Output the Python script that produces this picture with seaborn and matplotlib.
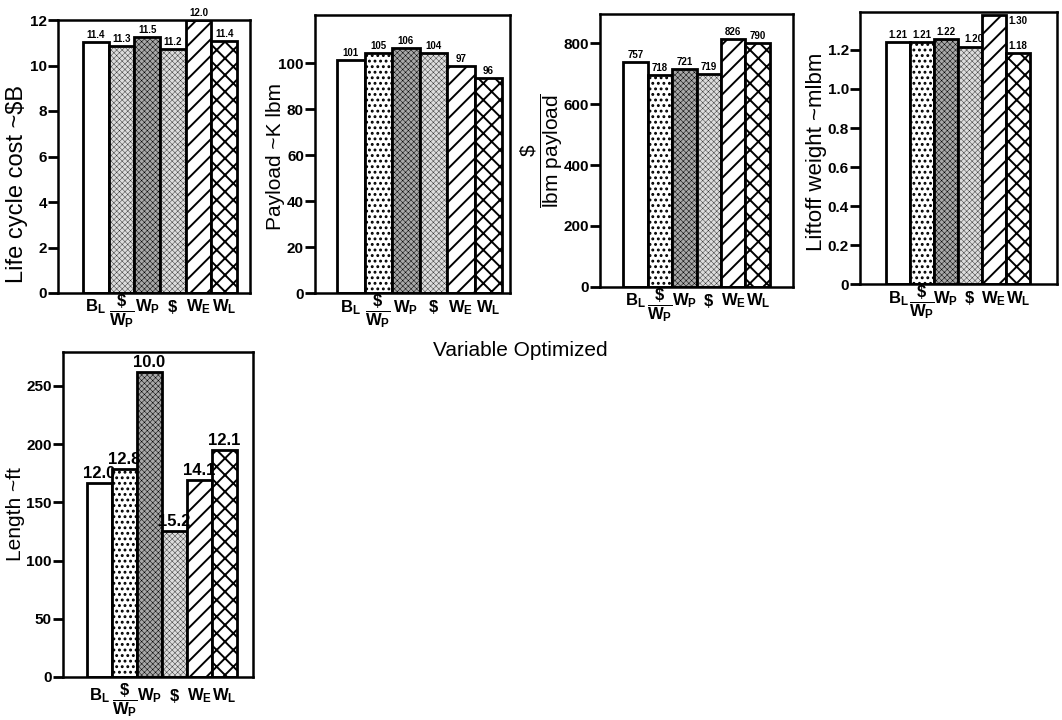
import matplotlib
matplotlib.use('Agg')
import matplotlib.pyplot as plt
import seaborn as sns
import pandas as pd
from matplotlib import font_manager

# ---------------- data ----------------
categories = [r'$B_L$', r'$\dfrac{\$}{W_P}$', r'$W_P$', r'$\$$', r'$W_E$', r'$W_L$']

cost_heights = [11.05, 10.86, 11.27, 10.71, 12.0, 11.09]
cost_labels = ['11.4', '11.3', '11.5', '11.2', '12.0', '11.4']

payload_heights = [101.4, 104.6, 106.5, 104.3, 98.8, 93.5]
payload_labels = ['101', '105', '106', '104', '97', '96']

cpp_heights = [740, 696, 716, 699, 814, 800]
cpp_labels = ['757', '718', '721', '719', '826', '790']

liftoff_heights = [1.242, 1.242, 1.254, 1.217, 1.379, 1.183]
liftoff_labels = ['1.21', '1.21', '1.22', '1.20', '1.30', '1.18']

length_heights = [166.5, 178.6, 262.0, 125.5, 169.4, 195.0]
length_labels = ['12.0', '12.8', '10.0', '15.2', '14.1', '12.1']

cost_ticks = [0, 2, 4, 6, 8, 10, 12]
payload_ticks = [0, 20, 40, 60, 80, 100]
cpp_ticks = [0, 200, 400, 600, 800]
liftoff_ticks = [0, 0.2, 0.4, 0.6, 0.8, 1.0, 1.2]
liftoff_ticklabels = ['0', '0.2', '0.4', '0.6', '0.8', '1.0', '1.2']
length_ticks = [0, 50, 100, 150, 200, 250]

# ---------------- style ----------------
sns.set_style('ticks')
plt.rcParams['font.family'] = ['Liberation Sans', 'DejaVu Sans']
plt.rcParams['mathtext.fontset'] = 'custom'
plt.rcParams['mathtext.rm'] = 'Liberation Sans:bold'
plt.rcParams['mathtext.it'] = 'Liberation Sans:bold'
plt.rcParams['mathtext.bf'] = 'Liberation Sans:bold'
plt.rcParams['mathtext.sf'] = 'Liberation Sans'
plt.rcParams['hatch.linewidth'] = 1.3
for k in ['text.color', 'axes.labelcolor', 'xtick.color', 'ytick.color', 'axes.edgecolor']:
    plt.rcParams[k] = 'black'

installed = {f.name for f in font_manager.fontManager.ttflist}
tick_family = 'Liberation Sans Narrow' if 'Liberation Sans Narrow' in installed else 'Liberation Sans'
tick_size = 13 if tick_family == 'Liberation Sans Narrow' else 11

W, H = 1062, 720
fig = plt.figure(figsize=(W / 100, H / 100), dpi=100)


def rect(l, r, t, b):
    return [l / W, 1 - b / H, (r - l) / W, (b - t) / H]


# pattern per bar: (facecolor, hatch, hatch linewidth)
pat_white = ('white', None, None)
pat_dots = ('white', '...', 1.3)
pat_dark = ('#a8a8a8', 'xxxxxx', 0.35)
pat_light = ('#dcdcdc', 'xxxxxx', 0.25)
pat_diag = ('white', '//', 1.4)
pat_cross = ('white', 'xx', 1.4)
patterns_std = [pat_white, pat_dots, pat_dark, pat_light, pat_diag, pat_cross]
patterns_p1 = [pat_white, pat_light, pat_dark, pat_light, pat_diag, pat_cross]

# extra downward shift (pixels) of the fraction category label
label_extra = [0, 4, 0, 0, 0, 0]

panels = [
    dict(rect=rect(58, 250, 20, 293), h=cost_heights, lab=cost_labels,
         ylabel='Life cycle cost ~$B', yfs=17, lx=-0.156, ly=0.40, ylim=(0, 12),
         ticks=cost_ticks, tl=None, xoff=14,
         xlim=(-1.47, 6.0), vfs=7, pats=patterns_p1, dx=[0] * 6, top=[False] * 6),
    dict(rect=rect(315, 510, 15, 293.3), h=payload_heights, lab=payload_labels,
         ylabel='Payload ~K lbm', yfs=15, lx=-0.154, ly=0.49, ylim=(0, 121),
         ticks=payload_ticks, tl=None, xoff=14,
         xlim=(-1.3, 5.79), vfs=7, pats=patterns_std, dx=[0] * 6, top=[False] * 6),
    dict(rect=rect(600, 793, 14, 286.7), h=cpp_heights, lab=cpp_labels,
         ylabel=r'$\dfrac{\mathsf{\$}}{\mathsf{lbm\ payload}}$', yfs=15, lx=-0.18, ly=0.5,
         ylim=(0, 897), ticks=cpp_ticks, tl=None, xoff=14,
         xlim=(-1.44, 6.44), vfs=7, pats=patterns_std, dx=[0] * 6, top=[False] * 6),
    dict(rect=rect(860, 1057, 12, 284.3), h=liftoff_heights, lab=liftoff_labels,
         ylabel='Liftoff weight ~mlbm', yfs=16, lx=-0.165, ly=0.485, ylim=(0, 1.394),
         ticks=liftoff_ticks, tl=liftoff_ticklabels, xoff=14,
         xlim=(-1.58, 6.63), vfs=7, pats=patterns_std,
         dx=[0, 0, 0, 0.15, 1.0, 0], top=[False, False, False, False, True, False]),
    dict(rect=rect(63, 253, 352, 677), h=length_heights, lab=length_labels,
         ylabel='Length ~ft', yfs=15, lx=-0.2, ly=0.5, ylim=(0, 279),
         ticks=length_ticks, tl=None, xoff=19,
         xlim=(-1.46, 6.14), vfs=12, pats=patterns_std, dx=[0] * 6, top=[False] * 6),
]

for p in panels:
    ax = fig.add_axes(p['rect'])
    df = pd.DataFrame({'cat': categories, 'val': p['h']})
    sns.barplot(data=df, x='cat', y='val', order=categories, ax=ax, width=1.0,
                color='white', edgecolor='black', linewidth=2.0, saturation=1)
    for patch, (fc, hatch, hlw) in zip(ax.patches, p['pats']):
        patch.set_facecolor(fc)
        patch.set_edgecolor('black')
        if hatch:
            patch.set_hatch(hatch)
            if hasattr(patch, 'set_hatch_linewidth'):
                patch.set_hatch_linewidth(hlw)
    for i, (v, t) in enumerate(zip(p['h'], p['lab'])):
        if p['top'][i]:
            ax.annotate(t, xy=(i + p['dx'][i], p['ylim'][1]), xytext=(0, -3),
                        textcoords='offset points', ha='center', va='top',
                        fontsize=p['vfs'], fontweight='bold', annotation_clip=False)
        else:
            ax.annotate(t, xy=(i + p['dx'][i], v), xytext=(0, 1.5),
                        textcoords='offset points', ha='center', va='bottom',
                        fontsize=p['vfs'], fontweight='bold', annotation_clip=False)
    ax.set_xlim(*p['xlim'])
    ax.set_ylim(*p['ylim'])
    ax.set_yticks(p['ticks'])
    if p['tl'] is not None:
        ax.set_yticklabels(p['tl'])
    # category labels, vertically centred on one line (fraction centred on it)
    ax.set_xticks(range(len(categories)))
    ax.set_xticklabels([''] * len(categories))
    ax.tick_params(axis='x', length=0)
    for i, c in enumerate(categories):
        ax.annotate(c, xy=(i, 0), xycoords=ax.get_xaxis_transform(),
                    xytext=(0, -p['xoff'] - label_extra[i]), textcoords='offset pixels',
                    ha='center', va='center', fontsize=12, annotation_clip=False)
    ax.set_xlabel('')
    ax.set_ylabel(p['ylabel'], fontsize=p['yfs'])
    ax.yaxis.set_label_coords(p['lx'], p['ly'])
    ax.tick_params(axis='y', direction='out', length=7, width=2, pad=1)
    for lbl in ax.get_yticklabels():
        lbl.set_fontweight('bold')
        lbl.set_family(tick_family)
        lbl.set_fontsize(tick_size)
    for s in ax.spines.values():
        s.set_visible(True)
        s.set_linewidth(1.8)
        s.set_color('black')

fig.text(520 / W, 1 - 350 / H, 'Variable Optimized', ha='center', va='center', fontsize=15)

fig.savefig('out.png', dpi=100)
